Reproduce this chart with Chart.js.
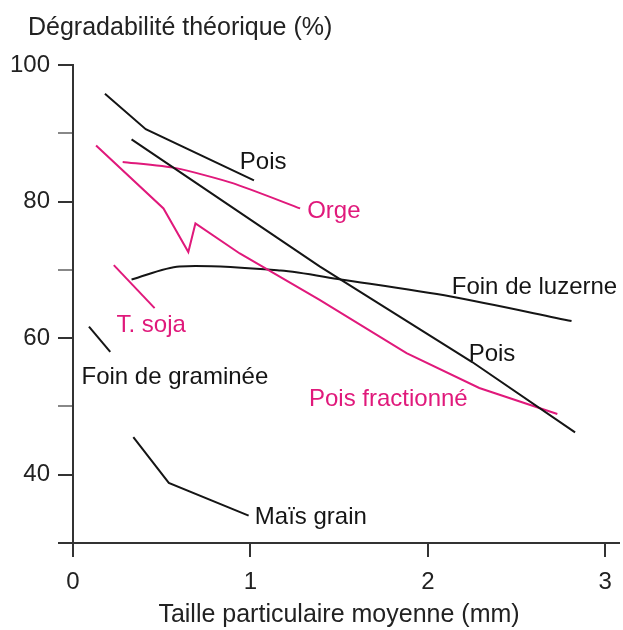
<!DOCTYPE html>
<html>
<head>
<meta charset="utf-8">
<script src="https://cdn.jsdelivr.net/npm/chart.js@4/dist/chart.umd.min.js"></script>
<style>
  html, body { margin: 0; padding: 0; background: #fff; }
  #wrap { width: 623px; height: 630px; }
</style>
</head>
<body>
<div id="wrap"><canvas id="chart" width="623" height="630"></canvas></div>
<script>
// Particle size (mm) vs theoretical degradability (%)
const PINK = '#e0197b';
const BLACK = '#151515';

const poisHautX = [0.18, 0.41, 1.02];
const poisHautY = [95.8, 90.6, 83.1];

const poisX = [0.33, 1.39, 2.25, 2.83];
const poisY = [89.1, 70.5, 56.5, 46.2];

const orgeX = [0.28, 0.58, 0.90, 1.28];
const orgeY = [85.8, 84.9, 82.7, 79.0];

const poisFracX = [0.13, 0.51, 0.65, 0.69, 0.94, 1.39, 1.88, 2.29, 2.73];
const poisFracY = [88.2, 79.0, 72.6, 76.8, 72.4, 65.6, 57.8, 52.7, 48.9];

const luzerneX = [0.33, 0.60, 1.17, 1.51, 2.13, 2.81];
const luzerneY = [68.6, 70.5, 69.9, 68.6, 66.1, 62.5];

const sojaX = [0.23, 0.46];
const sojaY = [70.7, 64.4];

const gramineeX = [0.09, 0.21];
const gramineeY = [61.7, 58.0];

const maisX = [0.34, 0.54, 0.99];
const maisY = [45.5, 38.8, 34.0];

const xTicks = [0, 1, 2, 3];
const yLabelled = [40, 60, 80, 100];

// curve labels, anchored in data units (left edge, vertical middle)
const curveLabels = [
    { text: 'Pois', x: 0.94, y: 85.8, color: BLACK },
    { text: 'Orge', x: 1.32, y: 78.5, color: PINK },
    { text: 'Foin de luzerne', x: 2.135, y: 67.5, color: BLACK },
    { text: 'T. soja', x: 0.245, y: 61.8, color: PINK },
    { text: 'Foin de graminée', x: 0.048, y: 54.2, color: BLACK },
    { text: 'Pois', x: 2.23, y: 57.6, color: BLACK },
    { text: 'Pois fractionné', x: 1.33, y: 51.0, color: PINK },
    { text: 'Maïs grain', x: 1.025, y: 33.7, color: BLACK }
];

const FONT = '"Liberation Sans", Arial, sans-serif';

function toPoints(xs, ys) {
    return xs.map((x, i) => ({ x: x, y: ys[i] }));
}

function line(data, color, tension) {
    return {
        data: data,
        showLine: true,
        borderColor: color,
        borderWidth: 2,
        pointRadius: 0,
        tension: tension || 0,
        fill: false
    };
}

const textPlugin = {
    id: 'texts',
    afterDraw(chart) {
        const ctx = chart.ctx;
        const xs = chart.scales.x, ys = chart.scales.y;
        ctx.save();
        ctx.font = '24px ' + FONT;
        ctx.textBaseline = 'middle';
        ctx.textAlign = 'left';
        curveLabels.forEach(l => {
            ctx.fillStyle = l.color;
            ctx.fillText(l.text, xs.getPixelForValue(l.x), ys.getPixelForValue(l.y));
        });
        ctx.fillStyle = '#222';
        ctx.font = '25px ' + FONT;
        ctx.fillText('Dégradabilité théorique (%)', 28, 28);
        ctx.textAlign = 'center';
        ctx.fillText('Taille particulaire moyenne (mm)', 339, 615);
        ctx.restore();
    }
};

new Chart(document.getElementById('chart'), {
    type: 'scatter',
    data: {
        datasets: [
            line(toPoints(poisHautX, poisHautY), BLACK),
            line(toPoints(poisX, poisY), BLACK),
            line(toPoints(orgeX, orgeY), PINK, 0.2),
            line(toPoints(poisFracX, poisFracY), PINK),
            line(toPoints(luzerneX, luzerneY), BLACK, 0.3),
            line(toPoints(sojaX, sojaY), PINK),
            line(toPoints(gramineeX, gramineeY), BLACK),
            line(toPoints(maisX, maisY), BLACK)
        ]
    },
    options: {
        responsive: false,
        animation: false,
        layout: { padding: { left: 0, right: 3, top: 65, bottom: 0 } },
        plugins: {
            legend: { display: false },
            tooltip: { enabled: false }
        },
        scales: {
            x: {
                type: 'linear',
                min: 0,
                max: 3.08,
                afterBuildTicks: s => { s.ticks = xTicks.map(v => ({ value: v })); },
                afterFit: s => { s.height = 87; },
                border: { display: true, color: '#333', width: 2 },
                grid: { drawOnChartArea: false, drawTicks: true, tickLength: 14, color: '#333', lineWidth: 2 },
                ticks: { color: '#222', font: { size: 24, family: FONT }, padding: 11, maxRotation: 0 }
            },
            y: {
                type: 'linear',
                min: 30,
                max: 100,
                afterFit: s => { s.width = 73; },
                border: { display: true, color: '#333', width: 2 },
                grid: {
                    drawOnChartArea: false,
                    drawTicks: true,
                    tickLength: 15,
                    color: c => yLabelled.includes(c.tick.value) || c.tick.value === 30 ? '#333' : '#888',
                    lineWidth: 2
                },
                ticks: {
                    stepSize: 10,
                    color: '#222',
                    font: { size: 24, family: FONT },
                    padding: 8,
                    callback: v => yLabelled.includes(v) ? String(v) : ''
                }
            }
        }
    },
    plugins: [textPlugin]
});
</script>
</body>
</html>
